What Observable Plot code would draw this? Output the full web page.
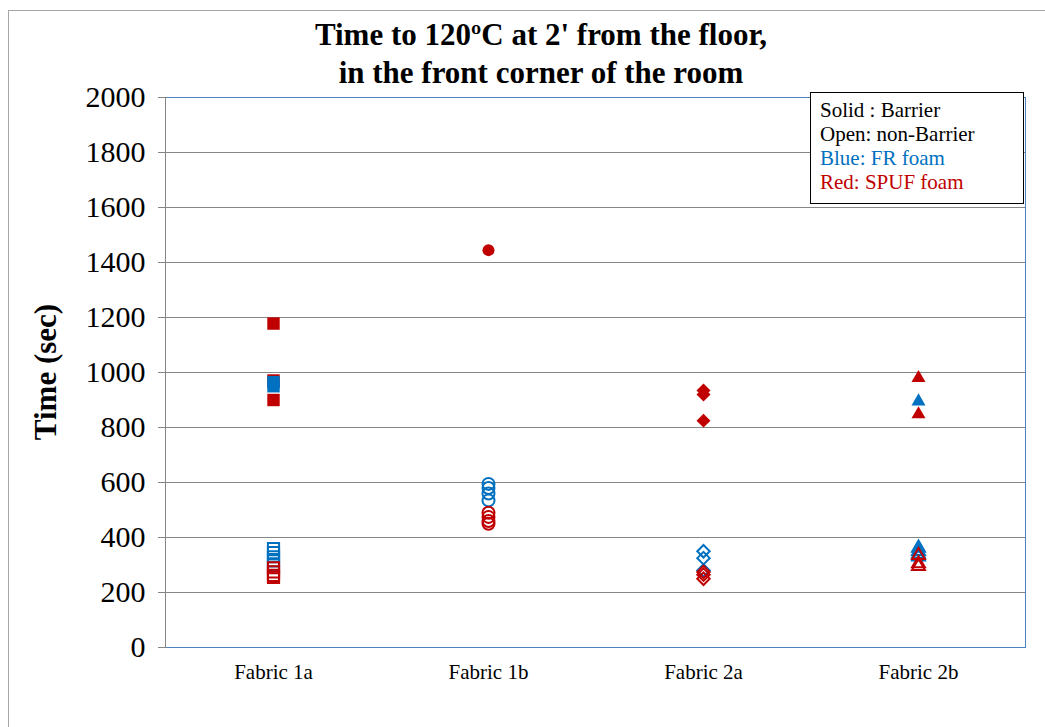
<!DOCTYPE html>
<html><head><meta charset="utf-8">
<script src="https://cdn.jsdelivr.net/npm/d3@7"></script>
<script src="https://cdn.jsdelivr.net/npm/@observablehq/plot@0.6"></script>
<style>body{margin:0;background:#fff} svg{display:block}</style>
</head><body><div id="chart"></div>
<script>
const categories = ["Fabric 1a", "Fabric 1b", "Fabric 2a", "Fabric 2b"];
const yTicks = [0, 200, 400, 600, 800, 1000, 1200, 1400, 1600, 1800, 2000];
// values in seconds, one list per fabric
const barrierFR   = [[965, 950], [], [], [895]];
const barrierSPUF = [[1178, 971, 900], [1445], [935, 920, 825], [980, 848]];
const openFR      = [[360, 345, 330, 315, 300], [595, 580, 560, 535], [350, 325, 280], [362, 350, 340, 330]];
const openSPUF    = [[290, 275, 262, 255], [490, 475, 460, 450], [275, 265, 250], [335, 305, 295]];
const legendLines = ["Solid : Barrier", "Open: non-Barrier", "Blue: FR foam", "Red: SPUF foam"];

const RED = "#C00000", BLUE = "#0070C0";
function rowsOf(series) {
  const out = [];
  series.forEach((vals, i) => vals.forEach(v => out.push({fabric: categories[i], time: v})));
  return out;
}
const shape = {
  "Fabric 1a": {symbol: "square", rf: 7, ro: 6.3},
  "Fabric 1b": {symbol: "circle", rf: 6, ro: 6},
  "Fabric 2a": {symbol: "diamond2", rf: 6.3, ro: 5.6},
  "Fabric 2b": {symbol: "triangle", rf: 5.2, ro: 4.8}
};
const dotMarks = [];
for (const c of categories) {
  const s = shape[c];
  const pick = series => rowsOf(series).filter(d => d.fabric === c);
  dotMarks.push(Plot.dot(pick(openFR), {x: "fabric", y: "time", symbol: () => s.symbol, r: s.ro, fill: "none", stroke: BLUE, strokeWidth: 2}));
  dotMarks.push(Plot.dot(pick(openSPUF), {x: "fabric", y: "time", symbol: () => s.symbol, r: s.ro, fill: "none", stroke: RED, strokeWidth: 2}));
  dotMarks.push(Plot.dot(pick(barrierSPUF), {x: "fabric", y: "time", symbol: () => s.symbol, r: s.rf, fill: RED, stroke: "none"}));
  dotMarks.push(Plot.dot(pick(barrierFR), {x: "fabric", y: "time", symbol: () => s.symbol, r: s.rf, fill: BLUE, stroke: "none"}));
}

const svg = Plot.plot({
  width: 1045, height: 727,
  marginLeft: 165, marginRight: 20, marginTop: 97, marginBottom: 80,
  style: {fontFamily: "'Liberation Serif', 'Times New Roman', serif", background: "#fff", color: "#000"},
  x: {type: "point", domain: categories, padding: 0.5, label: null},
  y: {domain: [0, 2000], ticks: yTicks, label: null},
  symbol: {type: "identity"},
  marks: [
    Plot.gridY(yTicks.slice(1, -1), {stroke: "#868686", strokeOpacity: 1}),
    Plot.frame({stroke: "#4F81BD"}),
    Plot.frame({anchor: "left", stroke: "#868686"}),
    Plot.axisY(yTicks, {tickSize: 7, tickPadding: 13, fontSize: 30, tickFormat: d => String(d), stroke: "#868686", label: null, fill: "#000"}),
    Plot.axisX({tickSize: 0, tickPadding: 17, fontSize: 21, label: null}),
    ...dotMarks
  ]
});
const g = d3.select(svg);
g.insert("rect", ":first-child").attr("x", 8.5).attr("y", 10.5).attr("width", 1100).attr("height", 1000)
  .attr("fill", "none").attr("stroke", "#a6a6a6");
const title = g.append("text").attr("text-anchor", "middle").attr("font-weight", "bold").attr("font-size", 31)
  .attr("font-family", "'Liberation Serif', serif").attr("fill", "#000");
title.append("tspan").attr("x", 541).attr("y", 45).text("Time to 120ºC at 2' from the floor,");
title.append("tspan").attr("x", 541).attr("y", 83).text("in the front corner of the room");
g.append("text").attr("transform", "translate(56,372) rotate(-90)").attr("text-anchor", "middle")
  .attr("font-weight", "bold").attr("font-size", 31).attr("font-family", "'Liberation Serif', serif")
  .text("Time (sec)");
g.append("rect").attr("x", 810.5).attr("y", 92.5).attr("width", 213).attr("height", 111)
  .attr("fill", "#fff").attr("stroke", "#000");
const lc = ["#000", "#000", BLUE, RED];
legendLines.forEach((t, i) => {
  g.append("text").attr("x", 820).attr("y", 117 + i * 24).attr("font-size", 21).attr("text-anchor", "start")
    .attr("font-family", "'Liberation Serif', serif").attr("fill", lc[i]).text(t);
});
document.getElementById("chart").appendChild(svg);
</script>
</body></html>
